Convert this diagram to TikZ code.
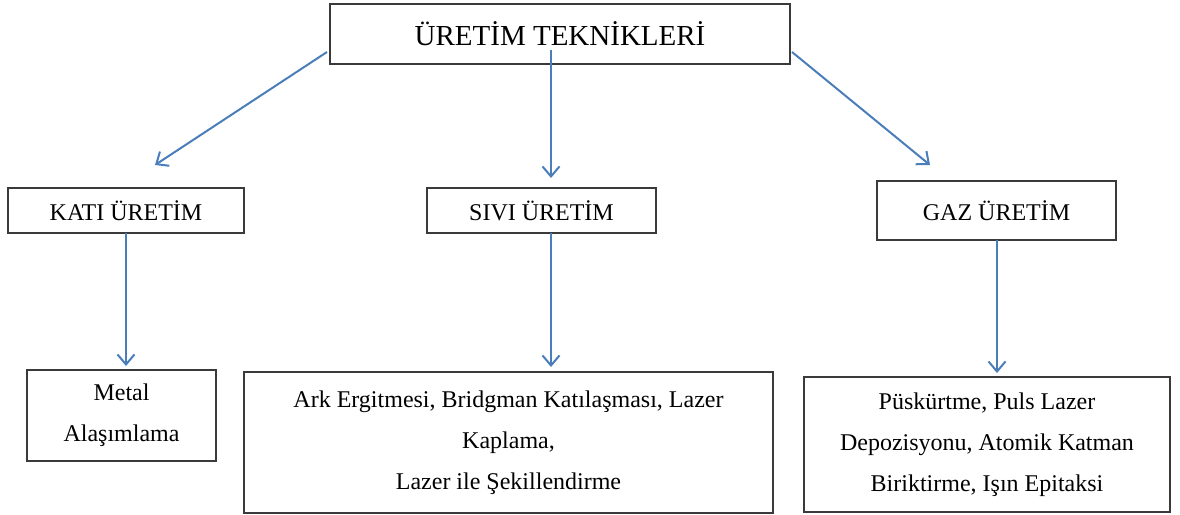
\documentclass[tikz,border=0pt]{standalone}
\usepackage{fontspec}
\setmainfont{Liberation Serif}
\usetikzlibrary{arrows.meta}
\definecolor{arrowblue}{HTML}{4A7EBB}
\definecolor{boxline}{HTML}{3A3A3A}
\tikzset{
  box/.style={draw=boxline, line width=1.3pt, inner sep=0pt, align=center,
              font=\fontsize{24}{41}\selectfont},
  conn/.style={draw=arrowblue, line width=2pt,
               -{Straight Barb[length=10pt,width=17pt,line width=2pt]}}
}
\begin{document}
\begin{tikzpicture}[x=1pt,y=-1pt]
\useasboundingbox (0,0) rectangle (1180,514);
\node[box, minimum width=460pt, minimum height=60pt, font=\fontsize{29}{34}\selectfont] (top) at (560,34) {ÜRETİM TEKNİKLERİ};
\node[box, minimum width=236pt, minimum height=45pt] (kati) at (126,210.5) {KATI ÜRETİM};
\node[box, minimum width=229pt, minimum height=45pt] (sivi) at (541.5,210.5) {SIVI ÜRETİM};
\node[box, minimum width=239pt, minimum height=59pt] (gaz) at (996.5,210.5) {GAZ ÜRETİM};
\node[box, minimum width=189pt, minimum height=91pt] (metal) at (121.5,415.5) {Metal\\Alaşımlama};
\node[box, minimum width=529pt, minimum height=141pt] (sivic) at (508.5,442.5) {Ark Ergitmesi, Bridgman Katılaşması, Lazer\\Kaplama,\\Lazer ile Şekillendirme};
\node[box, minimum width=366pt, minimum height=135pt] (gazc) at (987,444.5) {Püskürtme, Puls Lazer\\Depozisyonu, Atomik Katman\\Biriktirme, Işın Epitaksi};
% connector ends
\coordinate (tl) at (327,52);
\coordinate (tm) at (551,50);
\coordinate (tr) at (792,52);
\coordinate (katiin) at (155,165);
\coordinate (sivin) at (551,178);
\coordinate (gazin) at (930,165);
\coordinate (katiout) at (126,233);
\coordinate (sivout) at (551,233);
\coordinate (gazout) at (997,240);
\coordinate (metalin) at (126,366);
\coordinate (sivcin) at (551,367);
\coordinate (gazcin) at (997,373);
\draw[conn] (tl) -- (katiin);
\draw[conn] (tm) -- (sivin);
\draw[conn] (tr) -- (gazin);
\draw[conn] (katiout) -- (metalin);
\draw[conn] (sivout) -- (sivcin);
\draw[conn] (gazout) -- (gazcin);
\end{tikzpicture}
\end{document}
